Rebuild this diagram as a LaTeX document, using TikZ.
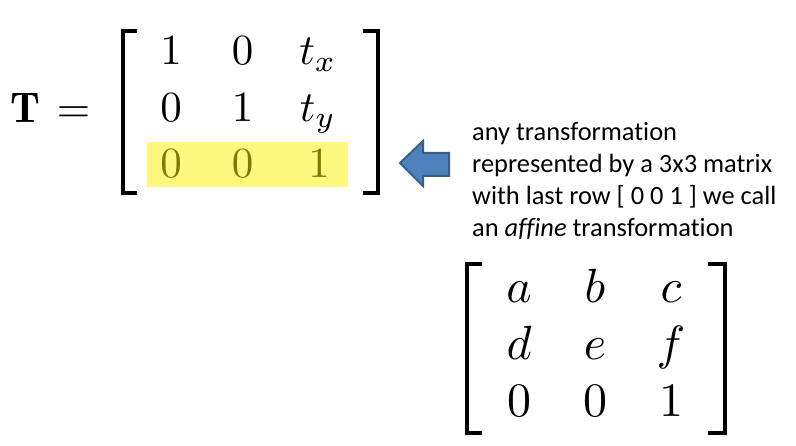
\documentclass[tikz,border=0pt]{standalone}
\usepackage{graphicx}
\usepackage{fontspec}
\newfontfamily\calibri[Ligatures=NoCommon]{Carlito}
\definecolor{arrowfill}{HTML}{4F81BD}
\definecolor{arrowline}{HTML}{385D8A}
\newcommand{\matA}[1]{\scalebox{4.3}{$#1$}}
\newcommand{\matB}[1]{\scalebox{4.8}{$#1$}}
\begin{document}
\begin{tikzpicture}[x=1pt,y=-1pt,
  entA/.style={anchor=base,inner sep=0pt,font=\fontsize{10}{12}\selectfont},
  entB/.style={anchor=base,inner sep=0pt,font=\fontsize{10}{12}\selectfont},
  brk/.style={line width=4pt,line join=miter},
  txt/.style={anchor=base west,inner sep=0pt,font=\calibri\fontsize{26.4}{32}\selectfont},
  hl/.style={fill=yellow,fill opacity=0.5},
  bigarrow/.style={fill=arrowfill,draw=arrowline,line width=2pt,line join=miter}]
\useasboundingbox (0,0) rectangle (796,446);
% T =
\node[entA] (T) at (25,123) {\matA{\mathbf{T}}};
\node[entA] (eq) at (73.5,123) {\matA{=}};
% first matrix
\draw[brk] (137,31) -- (123,31) -- (123,193) -- (137,193);
\draw[brk] (363,31) -- (378,31) -- (378,193) -- (363,193);
\node[entA] (m11) at (171,65) {\matA{1}};
\node[entA] (m12) at (242.5,65) {\matA{0}};
\node[entA] (m13) at (318,65) {\matA{t_x}};
\node[entA] (m21) at (171,121.5) {\matA{0}};
\node[entA] (m22) at (242.5,121.5) {\matA{1}};
\node[entA] (m23) at (318,121.5) {\matA{t_y}};
\node[entA] (m31) at (171,178) {\matA{0}};
\node[entA] (m32) at (242.5,178) {\matA{0}};
\node[entA] (m33) at (319,178) {\matA{1}};
\fill[hl] (147,142) rectangle (348,187);
% arrow
\draw[bigarrow] (400,163) -- (423,141) -- (423,153) -- (449,153) -- (449,176) -- (423,176) -- (423,186) -- cycle;
% text
\node[txt] (l1) at (472,141) {any transformation};
\node[txt] (l2) at (472,173) {represented by a 3x3 matrix};
\node[txt] (l3) at (472,205) {with last row [ 0 0 1 ] we call};
\node[txt] (l4) at (472,237) {an \textit{affine} transformation};
% second matrix
\draw[brk] (482,264) -- (467,264) -- (467,433) -- (482,433);
\draw[brk] (708,264) -- (725,264) -- (725,433) -- (708,433);
\node[entB] (a) at (519,303) {\matB{a}};
\node[entB] (b) at (595,303) {\matB{b}};
\node[entB] (c) at (671,303) {\matB{c}};
\node[entB] (d) at (519,360) {\matB{d}};
\node[entB] (e) at (595,360) {\matB{e}};
\node[entB] (f) at (671,360) {\matB{f}};
\node[entB] (z1) at (519,417) {\matB{0}};
\node[entB] (z2) at (595,417) {\matB{0}};
\node[entB] (o) at (671,417) {\matB{1}};
\end{tikzpicture}
\end{document}
